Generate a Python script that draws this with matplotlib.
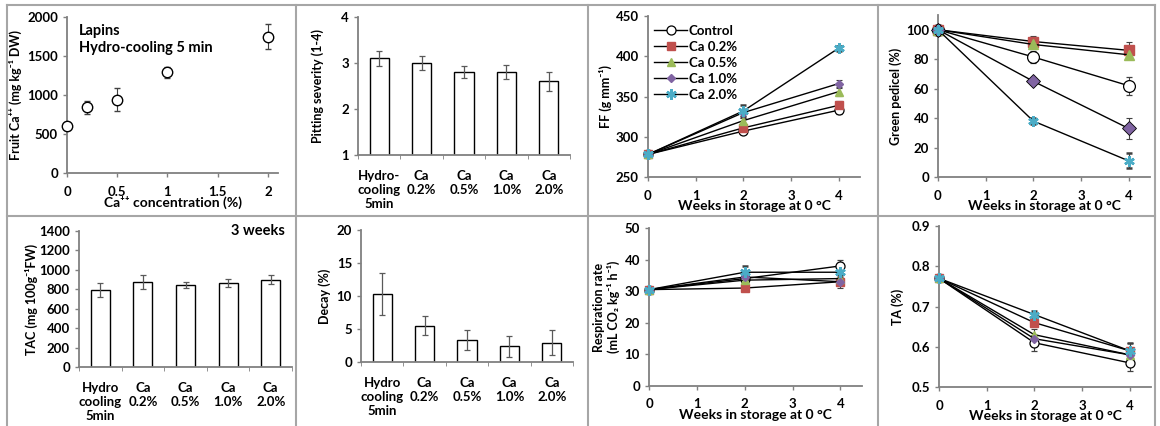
import matplotlib
matplotlib.use("Agg")
import matplotlib.pyplot as plt
from matplotlib.lines import Line2D
import numpy as np

plt.rcParams['font.family'] = ['Lato', 'DejaVu Sans']
plt.rcParams['font.weight'] = 'bold'

# ---------------- data ----------------
ca_conc = [0, 0.2, 0.5, 1, 2]
fruit_ca = [600, 840, 940, 1290, 1750]
fruit_ca_err = [50, 85, 150, 75, 165]

bar_labels_top = ["Hydro-\ncooling\n5min", "Ca\n0.2%", "Ca\n0.5%", "Ca\n1.0%", "Ca\n2.0%"]
bar_labels_bot = ["Hydro\ncooling\n5min", "Ca\n0.2%", "Ca\n0.5%", "Ca\n1.0%", "Ca\n2.0%"]

pitting = [3.1, 3.0, 2.8, 2.8, 2.6]
pitting_err = [0.17, 0.15, 0.13, 0.15, 0.21]

tac = [795, 875, 840, 865, 900]
tac_err = [72, 70, 30, 45, 45]

decay = [10.3, 5.5, 3.3, 2.4, 2.9]
decay_err = [3.25, 1.4, 1.5, 1.6, 1.9]

weeks = [0, 2, 4]
series = ["Control", "Ca 0.2%", "Ca 0.5%", "Ca 1.0%", "Ca 2.0%"]

ff = {
    "Control": [278, 307, 333],
    "Ca 0.2%": [278, 311, 339],
    "Ca 0.5%": [278, 320, 356],
    "Ca 1.0%": [278, 330, 366],
    "Ca 2.0%": [278, 332, 410],
}
ff_err = {
    "Control": [2, 3, 5],
    "Ca 0.2%": [2, 3, 5],
    "Ca 0.5%": [2, 3, 5],
    "Ca 1.0%": [2, 4, 4],
    "Ca 2.0%": [2, 7, 3],
}

green = {
    "Control": [100, 81.5, 62],
    "Ca 0.2%": [100, 92, 86],
    "Ca 0.5%": [100, 90, 83],
    "Ca 1.0%": [100, 65, 33],
    "Ca 2.0%": [100, 38, 11],
}
green_err = {
    "Control": [1, 4, 6],
    "Ca 0.2%": [1, 4, 6],
    "Ca 0.5%": [1, 3, 3],
    "Ca 1.0%": [1, 2, 7],
    "Ca 2.0%": [1, 2, 5],
}

resp = {
    "Control": [30.5, 34, 38],
    "Ca 0.2%": [30.5, 31, 33],
    "Ca 0.5%": [30.5, 33.5, 34],
    "Ca 1.0%": [30.5, 34.5, 33],
    "Ca 2.0%": [30.5, 36, 36],
}
resp_err = {
    "Control": [0.5, 2, 2],
    "Ca 0.2%": [0.5, 1, 1.5],
    "Ca 0.5%": [0.5, 1.5, 1.5],
    "Ca 1.0%": [0.5, 1.5, 2],
    "Ca 2.0%": [0.5, 2, 1],
}

ta = {
    "Control": [0.77, 0.61, 0.56],
    "Ca 0.2%": [0.77, 0.66, 0.59],
    "Ca 0.5%": [0.77, 0.63, 0.58],
    "Ca 1.0%": [0.77, 0.62, 0.58],
    "Ca 2.0%": [0.77, 0.68, 0.59],
}
ta_err = {
    "Control": [0.005, 0.02, 0.02],
    "Ca 0.2%": [0.005, 0.01, 0.02],
    "Ca 0.5%": [0.005, 0.015, 0.015],
    "Ca 1.0%": [0.005, 0.01, 0.015],
    "Ca 2.0%": [0.005, 0.01, 0.02],
}

# ---------------- styles ----------------
W, H = 1160, 426
FS = 9.5      # tick labels
YFS = 9       # y-axis titles
XFS = 10      # x-axis titles
SPINE = '#808080'
styles = {
    "Control": dict(marker='o', mfc='white', mec='black', ms=6.5, mew=0.9),
    "Ca 0.2%": dict(marker='s', mfc='#C0504D', mec='#C0504D', ms=5.5),
    "Ca 0.5%": dict(marker='^', mfc='#9BBB59', mec='#9BBB59', ms=5.5),
    "Ca 1.0%": dict(marker='D', mfc='#8064A2', mec='#8064A2', ms=4.5),
    "Ca 2.0%": dict(marker=(6, 2, 0), mfc='#4BACC6', mec='#4BACC6', ms=7.5, mew=1.8),
}

fig = plt.figure(figsize=(W / 100, H / 100), dpi=100)


def add_ax(l, r, t, b):
    return fig.add_axes([l / W, 1 - b / H, (r - l) / W, (b - t) / H])


def style_ax(ax):
    for s in ['top', 'right']:
        ax.spines[s].set_visible(False)
    for s in ['left', 'bottom']:
        ax.spines[s].set_color(SPINE)
        ax.spines[s].set_linewidth(1.3)
    ax.tick_params(axis='both', colors=SPINE, labelcolor='black', labelsize=FS,
                   direction='out', length=3, width=1.0)
    for lab in ax.get_xticklabels() + ax.get_yticklabels():
        lab.set_fontweight('bold')


def bar_panel(ax, vals, errs, labels, ylim, yticks, ylabel, lx):
    x = np.arange(len(vals))
    ax.bar(x, vals, width=0.45, color='white', edgecolor='black', linewidth=1.0,
           zorder=2)
    ax.errorbar(x, vals, yerr=errs, fmt='none', ecolor='#595959', elinewidth=0.9,
                capsize=2.5, capthick=0.9, zorder=3)
    ax.set_xlim(-0.5, len(vals) - 0.5)
    ax.set_ylim(*ylim)
    ax.set_yticks(yticks)
    ax.set_xticks(x)
    ax.set_xticklabels(labels, linespacing=1.2, fontweight='bold', fontsize=FS)
    ax.set_xticks(np.arange(-0.5, len(vals)), minor=True)
    style_ax(ax)
    ax.tick_params(axis='x', which='major', length=0, pad=11)
    ax.tick_params(axis='x', which='minor', length=3, color=SPINE, direction='out')
    ax.set_ylabel(ylabel, fontsize=YFS, fontweight='bold', va='center')
    ax.yaxis.set_label_coords(lx, 0.5)


def line_panel(ax, data, errs, ylim, yticks, ylabel, lx, xlabel=True):
    for s in series:
        ax.errorbar(weeks, data[s], yerr=errs[s], color='black', lw=1.0,
                    ecolor='#404040', elinewidth=0.8, capsize=2, capthick=0.8,
                    label=s, zorder=3, **styles[s])
    ax.set_xlim(0, 4.45)
    ax.set_ylim(*ylim)
    ax.set_yticks(yticks)
    ax.set_xticks([0, 1, 2, 3, 4])
    style_ax(ax)
    ax.tick_params(axis='x', pad=6)
    ax.set_ylabel(ylabel, fontsize=YFS, fontweight='bold', va='center')
    ax.yaxis.set_label_coords(lx, 0.5)
    if xlabel:
        ax.set_xlabel('Weeks in storage at 0 °C', fontsize=XFS, fontweight='bold', labelpad=-1)
    for c in ax.collections + ax.lines:
        c.set_clip_on(False)


# Panel 1: fruit Ca
ax1 = add_ax(67, 278, 17, 173)
ax1.errorbar(ca_conc, fruit_ca, yerr=fruit_ca_err, fmt='o', mfc='white', mec='black',
             ms=7.5, mew=1.0, ecolor='#404040', elinewidth=0.8, capsize=2.5,
             capthick=0.8, clip_on=False, zorder=3)
ax1.set_xlim(0, 2.1)
ax1.set_ylim(0, 2000)
ax1.set_yticks([0, 500, 1000, 1500, 2000])
ax1.set_xticks([0, 0.5, 1, 1.5, 2])
ax1.set_xticklabels(['0', '0.5', '1', '1.5', '2'])
style_ax(ax1)
ax1.tick_params(axis='x', pad=6)
ax1.set_ylabel('Fruit Ca⁺⁺ (mg kg⁻¹ DW)', fontsize=YFS, fontweight='bold', va='center')
ax1.yaxis.set_label_coords(-0.245, 0.5)
ax1.set_xlabel('Ca⁺⁺ concentration (%)', fontsize=XFS, fontweight='bold', labelpad=-1)
ax1.text(0.055, 0.955, 'Lapins\nHydro-cooling 5 min', transform=ax1.transAxes,
         fontsize=10.5, fontweight='bold', va='top', ha='left', linespacing=1.3)

# Panel 2: pitting
ax2 = add_ax(358, 570, 17, 155)
bar_panel(ax2, pitting, pitting_err, bar_labels_top, (1, 4), [1, 2, 3, 4],
          'Pitting severity (1-4)', -0.19)

# Panel 3: FF
ax3 = add_ax(648, 860, 16, 177)
line_panel(ax3, ff, ff_err, (250, 450), [250, 300, 350, 400, 450],
           'FF (g mm⁻¹)', -0.2)
handles = [Line2D([], [], color='black', lw=1.0, **styles[s]) for s in series]
ax3.legend(handles, series, loc='upper left', bbox_to_anchor=(0.03, 0.945), frameon=False,
           handlelength=2.5, handletextpad=0.1, labelspacing=0.3,
           borderpad=0, borderaxespad=0, prop=dict(weight='bold', size=FS))

# Panel 4: green pedicel
ax4 = add_ax(938, 1150, 15, 177)
line_panel(ax4, green, green_err, (0, 110), [0, 20, 40, 60, 80, 100],
           'Green pedicel (%)', -0.2)
for ln in ax4.lines:
    if ln.get_marker() == 'o':
        ln.set_markersize(8.5)
    elif ln.get_marker() == 'D':
        ln.set_markersize(7)
        ln.set_markeredgecolor('black')
        ln.set_markeredgewidth(0.6)
    elif ln.get_marker() in ('s', '^'):
        ln.set_markersize(6.5)

# Panel 5: TAC
ax5 = add_ax(79, 292, 231, 367)
bar_panel(ax5, tac, tac_err, bar_labels_bot, (0, 1400), list(range(0, 1401, 200)),
          'TAC (mg 100g⁻¹FW)', -0.225)
ax5.text(0.967, 1.0, '3 weeks', transform=ax5.transAxes, fontsize=10.5,
         fontweight='bold', ha='right', va='center')

# Panel 6: decay
ax6 = add_ax(361, 573, 230, 362)
bar_panel(ax6, decay, decay_err, bar_labels_bot, (0, 20), [0, 5, 10, 15, 20],
          'Decay (%)', -0.17)

# Panel 7: respiration
ax7 = add_ax(649, 862, 228, 386)
line_panel(ax7, resp, resp_err, (0, 50), [0, 10, 20, 30, 40, 50],
           'Respiration rate\n(mL CO₂ kg⁻¹ h⁻¹)', -0.2)

# Panel 8: TA
ax8 = add_ax(939, 1151, 226, 387)
line_panel(ax8, ta, ta_err, (0.5, 0.9), [0.5, 0.6, 0.7, 0.8, 0.9],
           'TA (%)', -0.195)
ax8.set_yticklabels(['0.5', '0.6', '0.7', '0.8', '0.9'])

# table grid lines
GC = '#a6a6a6'
for xv in [7, 296, 588, 878, 1155]:
    fig.add_artist(Line2D([xv / W, xv / W], [1 - 5 / H, 0], color=GC, lw=1.5))
for yv in [5, 216]:
    fig.add_artist(Line2D([7 / W, 1155 / W], [1 - yv / H, 1 - yv / H], color=GC, lw=1.5))

fig.savefig('out.png', dpi=100)
